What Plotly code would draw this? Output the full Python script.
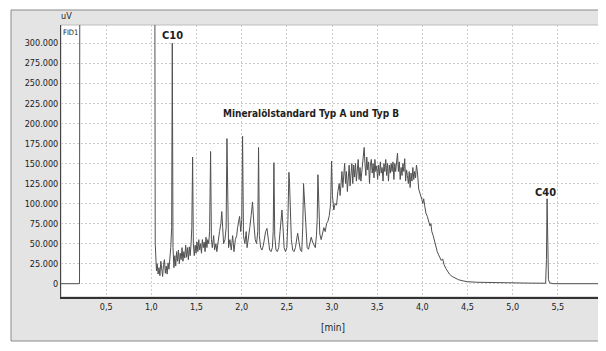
import plotly.graph_objects as go

# Retention time (min) and detector signal (uV)
time_min = [
    0.00, 0.20, 0.205, 0.21, 1.036, 1.043, 1.05, 1.057, 1.065, 1.075,
    1.085, 1.095, 1.105, 1.115, 1.125, 1.135, 1.145, 1.155, 1.165, 1.175,
    1.185, 1.195, 1.205, 1.215, 1.225, 1.232, 1.24, 1.25, 1.26, 1.27,
    1.28, 1.29, 1.30, 1.31, 1.32, 1.33, 1.34, 1.35, 1.36, 1.37,
    1.38, 1.39, 1.40, 1.41, 1.42, 1.43, 1.44, 1.448, 1.457, 1.465,
    1.475, 1.485, 1.495, 1.505, 1.515, 1.525, 1.535, 1.545, 1.555, 1.565,
    1.575, 1.585, 1.595, 1.605, 1.615, 1.625, 1.635, 1.645, 1.656, 1.665,
    1.675, 1.69, 1.70, 1.715, 1.725, 1.74, 1.755, 1.77, 1.78, 1.79,
    1.80, 1.815, 1.828, 1.837, 1.846, 1.855, 1.87, 1.885, 1.90, 1.915,
    1.93, 1.945, 1.955, 1.965, 1.977, 1.99, 2.001, 2.010, 2.02, 2.035,
    2.05, 2.06, 2.075, 2.09, 2.105, 2.12, 2.135, 2.15, 2.165, 2.178,
    2.187, 2.196, 2.21, 2.225, 2.24, 2.255, 2.265, 2.28, 2.295, 2.31,
    2.325, 2.34, 2.349, 2.357, 2.366, 2.38, 2.395, 2.41, 2.425, 2.436,
    2.446, 2.458, 2.47, 2.485, 2.50, 2.512, 2.523, 2.530, 2.538, 2.55,
    2.565, 2.58, 2.595, 2.607, 2.62, 2.635, 2.65, 2.665, 2.676, 2.685,
    2.692, 2.70, 2.71, 2.725, 2.74, 2.755, 2.77, 2.785, 2.80, 2.815,
    2.828, 2.836, 2.844, 2.852, 2.865, 2.88, 2.895, 2.91, 2.925, 2.94,
    2.955, 2.97, 2.985, 2.995, 3.005, 3.02, 3.035, 3.05, 3.065, 3.08,
    3.09, 3.10, 3.11, 3.12, 3.13, 3.14, 3.15, 3.16, 3.17, 3.18,
    3.19, 3.20, 3.21, 3.22, 3.23, 3.24, 3.25, 3.26, 3.27, 3.28,
    3.29, 3.30, 3.31, 3.32, 3.33, 3.345, 3.356, 3.365, 3.375, 3.385,
    3.395, 3.405, 3.415, 3.425, 3.435, 3.445, 3.455, 3.465, 3.475, 3.485,
    3.495, 3.505, 3.515, 3.525, 3.535, 3.545, 3.555, 3.565, 3.575, 3.585,
    3.595, 3.605, 3.615, 3.625, 3.635, 3.645, 3.655, 3.665, 3.675, 3.685,
    3.695, 3.705, 3.715, 3.725, 3.735, 3.745, 3.755, 3.765, 3.775, 3.785,
    3.795, 3.805, 3.815, 3.825, 3.835, 3.845, 3.855, 3.865, 3.875, 3.885,
    3.895, 3.905, 3.915, 3.925, 3.935, 3.945, 3.96, 3.98, 3.995, 4.005,
    4.015, 4.025, 4.04, 4.055, 4.07, 4.085, 4.095, 4.105, 4.12, 4.135,
    4.15, 4.165, 4.18, 4.195, 4.21, 4.225, 4.24, 4.26, 4.28, 4.30,
    4.33, 4.36, 4.40, 4.45, 4.50, 4.60, 4.80, 5.00, 5.20, 5.365,
    5.374, 5.381, 5.388, 5.396, 5.41, 5.45, 6.00,
]
signal_uv = [
    0, 0, 0, 600000, 600000, 50000, 25000, 16000, 25000, 12000,
    20000, 10000, 28000, 14000, 9000, 24000, 30000, 13000, 22000, 12000,
    26000, 18000, 30000, 45000, 70000, 300000, 45000, 20000, 35000, 22000,
    40000, 28000, 42000, 25000, 38000, 30000, 45000, 28000, 40000, 32000,
    48000, 33000, 45000, 30000, 46000, 35000, 50000, 70000, 158000, 50000,
    35000, 48000, 38000, 52000, 40000, 55000, 42000, 50000, 38000, 55000,
    45000, 52000, 40000, 58000, 45000, 55000, 50000, 65000, 165000, 55000,
    45000, 60000, 42000, 50000, 40000, 55000, 65000, 75000, 90000, 70000,
    50000, 55000, 70000, 181000, 60000, 45000, 55000, 42000, 60000, 40000,
    55000, 60000, 70000, 75000, 84000, 65000, 80000, 184000, 60000, 50000,
    65000, 45000, 55000, 70000, 85000, 102000, 75000, 55000, 50000, 65000,
    170000, 60000, 45000, 42000, 48000, 60000, 65000, 69000, 55000, 42000,
    40000, 45000, 65000, 151000, 60000, 42000, 40000, 45000, 65000, 80000,
    92000, 70000, 45000, 40000, 45000, 80000, 139000, 125000, 90000, 55000,
    42000, 40000, 45000, 55000, 63000, 52000, 42000, 40000, 70000, 125000,
    110000, 90000, 65000, 45000, 43000, 50000, 58000, 52000, 48000, 45000,
    60000, 80000, 136000, 90000, 62000, 55000, 62000, 70000, 65000, 75000,
    78000, 85000, 100000, 153000, 110000, 92000, 100000, 98000, 115000, 125000,
    110000, 130000, 140000, 120000, 145000, 150000, 125000, 140000, 115000, 130000,
    148000, 122000, 145000, 150000, 125000, 148000, 133000, 150000, 128000, 140000,
    155000, 130000, 145000, 128000, 140000, 150000, 170000, 150000, 135000, 158000,
    142000, 152000, 125000, 148000, 155000, 138000, 150000, 132000, 155000, 140000,
    147000, 130000, 148000, 135000, 152000, 138000, 145000, 128000, 150000, 140000,
    155000, 135000, 150000, 128000, 148000, 138000, 150000, 140000, 152000, 130000,
    150000, 140000, 155000, 163000, 140000, 152000, 130000, 145000, 135000, 150000,
    140000, 156000, 128000, 142000, 135000, 125000, 140000, 120000, 138000, 128000,
    145000, 130000, 140000, 132000, 148000, 140000, 118000, 112000, 105000, 100000,
    106000, 98000, 88000, 84000, 78000, 72000, 75000, 65000, 60000, 52000,
    46000, 40000, 36000, 33000, 29000, 31000, 24000, 19000, 15000, 12000,
    9000, 7000, 5000, 3500, 2500, 1800, 1200, 1000, 700, 600,
    30000, 106000, 25000, 5000, 1000, 0, 0,
]
assert len(time_min) == len(signal_uv), (len(time_min), len(signal_uv))

x_tickvals = [0.5, 1.0, 1.5, 2.0, 2.5, 3.0, 3.5, 4.0, 4.5, 5.0, 5.5]
x_ticktext = ["0,5", "1,0", "1,5", "2,0", "2,5", "3,0", "3,5", "4,0", "4,5", "5,0", "5,5"]
y_tickvals = [0, 25000, 50000, 75000, 100000, 125000, 150000, 175000, 200000,
              225000, 250000, 275000, 300000]
y_ticktext = ["0", "25.000", "50.000", "75.000", "100.000", "125.000", "150.000",
              "175.000", "200.000", "225.000", "250.000", "275.000", "300.000"]

# the page body adds an 8px offset; lay out in absolute window pixels
OFF = 8
W, H = 606 - OFF, 351 - OFF
PL, PR, PT, PB = 61, 603, 25, 297          # plot area in window pixels
L, R, T, B = PL - OFF, W - (PR - OFF), PT - OFF, H - (PB - OFF)
pw, ph = PR - PL, PB - PT

def px(xa):
    return (xa - PL) / pw

def py(ya):
    return (PB - ya) / ph

FONT = "DejaVu Sans Condensed"

fig = go.Figure()
fig.add_trace(go.Scatter(
    x=time_min, y=signal_uv, mode="lines",
    line=dict(color="#505050", width=1), hoverinfo="skip", showlegend=False,
))

def note(text, x, y, size, xref="paper", yref="paper"):
    return dict(text=text, x=x, y=y, xref=xref, yref=yref, showarrow=False,
                xanchor="center", yanchor="middle",
                font=dict(family=FONT, size=size, color="#1e1e1e"))

fig.update_layout(
    width=W, height=H,
    margin=dict(l=L, r=R, t=T, b=B, pad=0),
    paper_bgcolor="white", plot_bgcolor="white",
    font=dict(family=FONT, size=9, color="#222"),
    xaxis=dict(
        range=[0, 6.0], tickvals=x_tickvals, ticktext=x_ticktext,
        showgrid=True, gridcolor="#cccccc", griddash="2px,2px", gridwidth=1,
        zeroline=False, showline=True, linecolor="#333", linewidth=1.5,
        ticks="", tickfont=dict(family=FONT, size=9, color="#222"),
    ),
    yaxis=dict(
        range=[-16600, 322800], tickvals=y_tickvals, ticktext=y_ticktext,
        showgrid=True, gridcolor="#cccccc", griddash="2px,2px", gridwidth=1,
        zeroline=False, showline=True, linecolor="#444", linewidth=1, mirror=True,
        ticks="", tickfont=dict(family=FONT, size=9, color="#222"),
    ),
    shapes=[
        dict(type="rect", xref="paper", yref="paper", layer="below",
             x0=px(11), x1=px(610), y0=py(341), y1=py(10),
             fillcolor="#e4e4e4", line=dict(color="#8a8a8a", width=1)),
        dict(type="rect", xref="paper", yref="paper", layer="below",
             x0=0, x1=1, y0=0, y1=1,
             fillcolor="white", line=dict(color="#bdbdbd", width=1)),
    ],
    annotations=[
        note("uV", px(66), py(16), 9),
        note("FID1", px(70), py(32), 7.5),
        note("[min]", px(333), py(327), 10),
        note("<b>C10</b>", 1.232, 310000, 11, "x", "y"),
        note("<b>C40</b>", 5.36, 114000, 11, "x", "y"),
        note("<b>Mineralölstandard Typ A und Typ B</b>", 2.77, 213000, 10, "x", "y"),
    ],
)

fig.write_html("out.html")
